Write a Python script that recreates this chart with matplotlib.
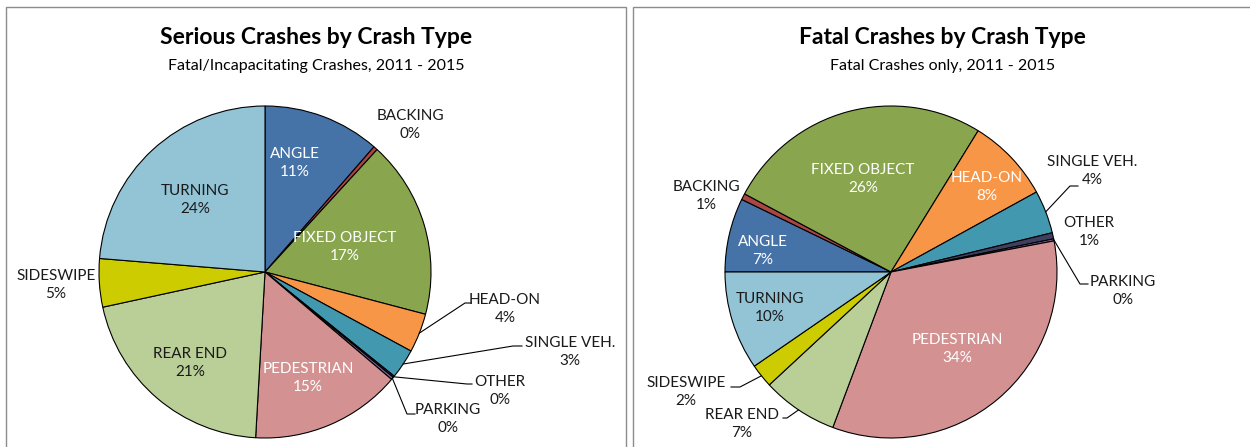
import numpy as np
import matplotlib
matplotlib.use("Agg")
import matplotlib.pyplot as plt
from matplotlib.patches import Rectangle

plt.rcParams["font.family"] = ["Lato", "DejaVu Sans"]

W, H = 1250, 447

categories = ["ANGLE", "BACKING", "FIXED OBJECT", "HEAD-ON", "SINGLE VEH.", "OTHER",
              "PARKING", "PEDESTRIAN", "REAR END", "SIDESWIPE", "TURNING"]
serious_pct = [11.4, 0.4, 17.3, 3.8, 2.9, 0.15, 0.25, 14.7, 20.7, 4.7, 23.7]
fatal_pct = [7.2, 0.6, 26.0, 8.2, 4.2, 0.6, 0.2, 33.7, 7.4, 2.3, 9.6]

colors = ["#4572A7", "#AA4643", "#89A54E", "#F79646", "#4198AF", "#3F3F5F",
          "#8064A2", "#D39291", "#BACF97", "#CCCC00", "#93C4D6"]
white_labels = {"ANGLE", "FIXED OBJECT", "PEDESTRIAN"}

# label layout (image pixel coords): centre of text, optional leader elbow/end
serious_layout = {
    "ANGLE": (295, 163, None),
    "BACKING": (410, 125, None),
    "FIXED OBJECT": (345, 247, None),
    "HEAD-ON": (505, 309, [(465, 303), (471, 303)]),
    "SINGLE VEH.": (570, 352, [(513, 346), (522, 346)]),
    "OTHER": (500, 391, [(467, 384), (472, 384)]),
    "PARKING": (448, 419, [(407, 414), (415, 414)]),
    "PEDESTRIAN": (308, 378, None),
    "REAR END": (190, 363, None),
    "SIDESWIPE": (56, 285, None),
    "TURNING": (195, 200, None),
}
fatal_layout = {
    "ANGLE": (763, 251, None),
    "BACKING": (706, 196, None),
    "FIXED OBJECT": (863, 179, None),
    "HEAD-ON": (987, 187, None),
    "SINGLE VEH.": (1092, 171, [(1070, 186), (1078, 186)]),
    "OTHER": (1089, 232, None),
    "PARKING": (1123, 291, [(1080, 284), (1088, 284)]),
    "PEDESTRIAN": (957, 349, None),
    "REAR END": (742, 424, [(787, 418), (783, 418)]),
    "SIDESWIPE": (686, 392, [(740, 387), (731, 387)]),
    "TURNING": (770, 308, None),
}


def Y(y):
    return H - y


fig = plt.figure(figsize=(W / 100, H / 100), dpi=100)
ax = fig.add_axes([0, 0, 1, 1])

panels = [
    dict(vals=serious_pct, cx=265, start=90, layout=serious_layout, px0=6, px1=626,
         title="Serious Crashes by Crash Type",
         sub="Fatal/Incapacitating Crashes, 2011 - 2015"),
    dict(vals=fatal_pct, cx=891, start=180, layout=fatal_layout, px0=633, px1=1252,
         title="Fatal Crashes by Crash Type", sub="Fatal Crashes only, 2011 - 2015"),
]

R, CY = 166, 272
for p in panels:
    ax.add_patch(Rectangle((p["px0"], -5), p["px1"] - p["px0"], Y(7) + 5, fill=False,
                           edgecolor="#8c8c8c", linewidth=1.0, clip_on=False))
    tx = (p["px0"] + p["px1"]) / 2
    ax.text(tx, Y(38), p["title"], ha="center", va="center", fontsize=16.5,
            fontweight="bold", color="black")
    ax.text(tx, Y(66), p["sub"], ha="center", va="center", fontsize=11.5, color="black")

    wedges, _ = ax.pie(p["vals"], colors=colors, startangle=p["start"], counterclock=False,
                       center=(p["cx"], Y(CY)), radius=R,
                       wedgeprops=dict(edgecolor="black", linewidth=0.8))
    total = sum(p["vals"])
    for w, name, v in zip(wedges, categories, p["vals"]):
        lx, ly, leader = p["layout"][name]
        pct = int(100 * v / total + 0.5)
        col = "white" if (name in white_labels or (p["cx"] > 600 and name == "HEAD-ON")) else "#1a1a1a"
        ax.text(lx, Y(ly), f"{name}\n{pct}%", ha="center", va="center", fontsize=11,
                color=col, linespacing=1.45)
        if leader:
            th = np.deg2rad((w.theta1 + w.theta2) / 2)
            sx = p["cx"] + R * np.cos(th)
            sy = Y(CY) + R * np.sin(th)
            xs = [sx] + [q[0] for q in leader]
            ys = [sy] + [Y(q[1]) for q in leader]
            ax.plot(xs, ys, color="black", linewidth=0.8)

ax.set_xlim(0, W)
ax.set_ylim(0, H)
ax.set_aspect("equal")
ax.axis("off")

fig.savefig("out.png", dpi=100, facecolor="white")
